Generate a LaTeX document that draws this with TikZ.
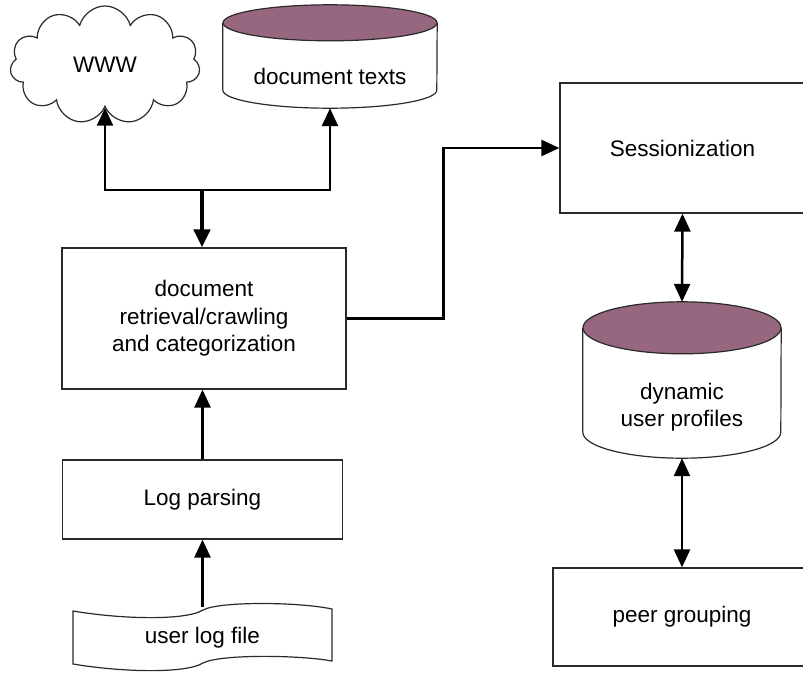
\documentclass[tikz,border=0pt]{standalone}
\usepackage{fontspec}
\setmainfont{Liberation Sans}
\usetikzlibrary{arrows.meta,shapes.symbols}
\definecolor{plum}{HTML}{976780}
\definecolor{edge}{HTML}{2A2A2A}
% disk store drawn round a node: #1 node, #2 x radius, #3 y radius
\newcommand{\drum}[3]{%
  \draw[edge,line width=1.2pt] ([yshift=-#3]#1.north west) -- ([yshift=#3]#1.south west)
    arc[start angle=180,end angle=360,x radius=#2,y radius=#3] -- ([yshift=-#3]#1.north east);
  \draw[edge,line width=1.2pt,fill=plum] ([yshift=-#3]#1.north) ellipse[x radius=#2,y radius=#3];}
\tikzset{
  box/.style={draw=edge,line width=1.2pt,align=center,inner sep=4pt},
  store/.style={align=center,inner sep=0pt},
  ar/.style={-{Triangle[length=18pt,width=16pt]},line width=2.5pt},
  dar/.style={{Triangle[length=18pt,width=16pt]}-{Triangle[length=18pt,width=16pt]},line width=2.5pt},
}

\begin{document}
\begin{tikzpicture}[x=1pt,y=-1pt,font=\fontsize{22.5}{27.5}\selectfont]
\useasboundingbox (0,0) rectangle (803,672);
% sources
\node[cloud,draw=edge,line width=1.2pt,cloud puffs=11,cloud ignores aspect,minimum width=190pt,minimum height=118pt] (www) at (105,65) {WWW};
\node[store,minimum width=214pt,minimum height=103pt,label={[yshift=-20pt]center:document texts}] (texts) at (330,56.5) {};
\drum{texts}{107pt}{18pt}
% left column
\node[box,minimum width=284pt,minimum height=141pt] (crawl) at (204,318.5) {document\\retrieval/crawling\\and categorization};
\node[box,minimum width=280pt,minimum height=79pt] (parse) at (202.5,499.5) {Log parsing};
\node[store,minimum width=259pt,minimum height=62pt] (logf) at (202.5,638) {user log file};
\draw[edge,line width=1.2pt] (73,611) .. controls (120,619) and (185,621) .. (203,610)
  .. controls (220,601) and (300,602) .. (332,609) -- (332,661)
  .. controls (300,655) and (220,654) .. (203,663)
  .. controls (185,674) and (120,672) .. (73,664) -- cycle;
% right column
\node[box,minimum width=245pt,minimum height=130pt] (sess) at (682.5,148) {Sessionization};
\node[store,minimum width=198pt,minimum height=156pt,label={[yshift=-27pt,align=center]center:dynamic\\user profiles}] (prof) at (682,380) {};
\drum{prof}{99pt}{26pt}
\node[box,minimum width=258pt,minimum height=98pt] (peer) at (682,617) {peer grouping};
% connectors
\coordinate (hub) at (202,190);
\draw[ar,line width=4.5pt] (hub) -- (hub |- crawl.north);
\draw[ar] (hub) -| (www.south);
\draw[ar] (hub) -| (texts.south);
\draw[ar] (crawl.east) -- ++(97,0) |- (sess.west);
\draw[dar] (sess.south) -- (prof.north);
\draw[dar] (prof.south) -- (peer.north);
\draw[ar] (parse.north) -- (parse.north |- crawl.south);
\draw[ar] (logf.north) -- (logf.north |- parse.south);
\end{tikzpicture}
\end{document}
